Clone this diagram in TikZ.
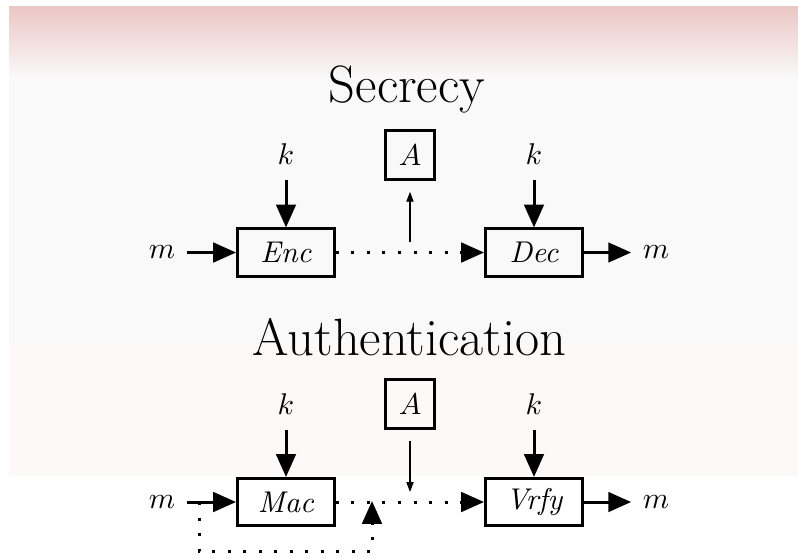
\documentclass[tikz,border=0pt]{standalone}
\usetikzlibrary{arrows.meta}

\definecolor{bandtop}{RGB}{236,199,196}
\definecolor{bandbot}{RGB}{248,247,247}
\definecolor{panelgray}{RGB}{249,249,249}
\definecolor{panelpink}{RGB}{253,249,248}

\tikzset{
  box/.style={draw, line width=1pt, minimum width=32.3pt, minimum height=15.7pt,
    inner sep=0pt, font=\itshape},
  abox/.style={draw, line width=1pt, minimum size=16.3pt, inner sep=0pt},
  heading/.style={font=\fontsize{17.5}{21}\selectfont, anchor=base, inner sep=0pt},
  keylbl/.style={anchor=base, inner xsep=0pt, inner ysep=5pt},
  msglbl/.style={inner xsep=3.7pt, inner ysep=0pt},
  bigarrow/.style={line width=1pt, -{Triangle[length=7.6pt,width=6.5pt]}},
  dotline/.style={line width=1pt, dash pattern=on 1pt off 4.17pt},
  dotarrow/.style={dotline, -{Triangle[length=7.6pt,width=6.5pt]}},
  thinarrow/.style={line width=0.4pt, -{Triangle[length=3.3pt,width=2.4pt]}},
}

\begin{document}
\begin{tikzpicture}[x=0.3333pt, y=-0.3333pt]
  \useasboundingbox (0,0) rectangle (798,558);

  % backdrop bands
  \fill[white] (0,0) rectangle (798,558);
  \shade[top color=bandtop, bottom color=bandbot] (9,6) rectangle (798,75);
  \fill[panelgray] (9,75) rectangle (798,344);
  \fill[panelpink] (9,344) rectangle (798,476);

  % ---------- Secrecy ----------
  \node[heading] (tsec) at (407,102) {Secrecy};

  \node[box] (enc) at (286,252.5) {Enc};
  \node[box] (dec) at (534,252.5) {Dec};
  \node[abox] (a1) at (410,155) {$A$};

  \node[keylbl] (k1) at (286,164) {$k$};
  \node[keylbl] (k2) at (534,164) {$k$};
  \node[msglbl] (m1) at (162,252.5) {$m$};
  \node[msglbl] (m2) at (656,252.5) {$m$};
  \coordinate (tap1) at (410,242);

  \draw[bigarrow] (k1) -- (enc);
  \draw[bigarrow] (k2) -- (dec);
  \draw[bigarrow] (m1) -- (enc);
  \draw[bigarrow] (dec) -- (m2);
  \draw[dotarrow] (enc) -- (dec);
  \draw[thinarrow, shorten >=3.6pt] (tap1) -- (a1);

  % ---------- Authentication ----------
  \node[heading] (tauth) at (409.5,355) {Authentication};

  \node[box] (mac) at (286,502) {Mac};
  \node[box] (vrfy) at (534,502) {Vrfy};
  \node[abox] (a2) at (410,404) {$A$};

  \node[keylbl] (k3) at (286,414) {$k$};
  \node[keylbl] (k4) at (534,414) {$k$};
  \node[msglbl] (m3) at (162,502) {$m$};
  \node[msglbl] (m4) at (656,502) {$m$};
  \coordinate (tap2) at (410,492);
  \coordinate (fork) at (199,502);
  \coordinate (join) at (372,501);

  \draw[bigarrow] (k3) -- (mac);
  \draw[bigarrow] (k4) -- (vrfy);
  \draw[bigarrow] (m3) -- (mac);
  \draw[bigarrow] (vrfy) -- (m4);
  \draw[dotarrow] (mac) -- (vrfy);
  \draw[thinarrow, shorten <=3.8pt] (a2) -- (tap2);
  \draw[dotarrow] (fork) -- (199,551) -- (372,551) -- (join);
\end{tikzpicture}
\end{document}
